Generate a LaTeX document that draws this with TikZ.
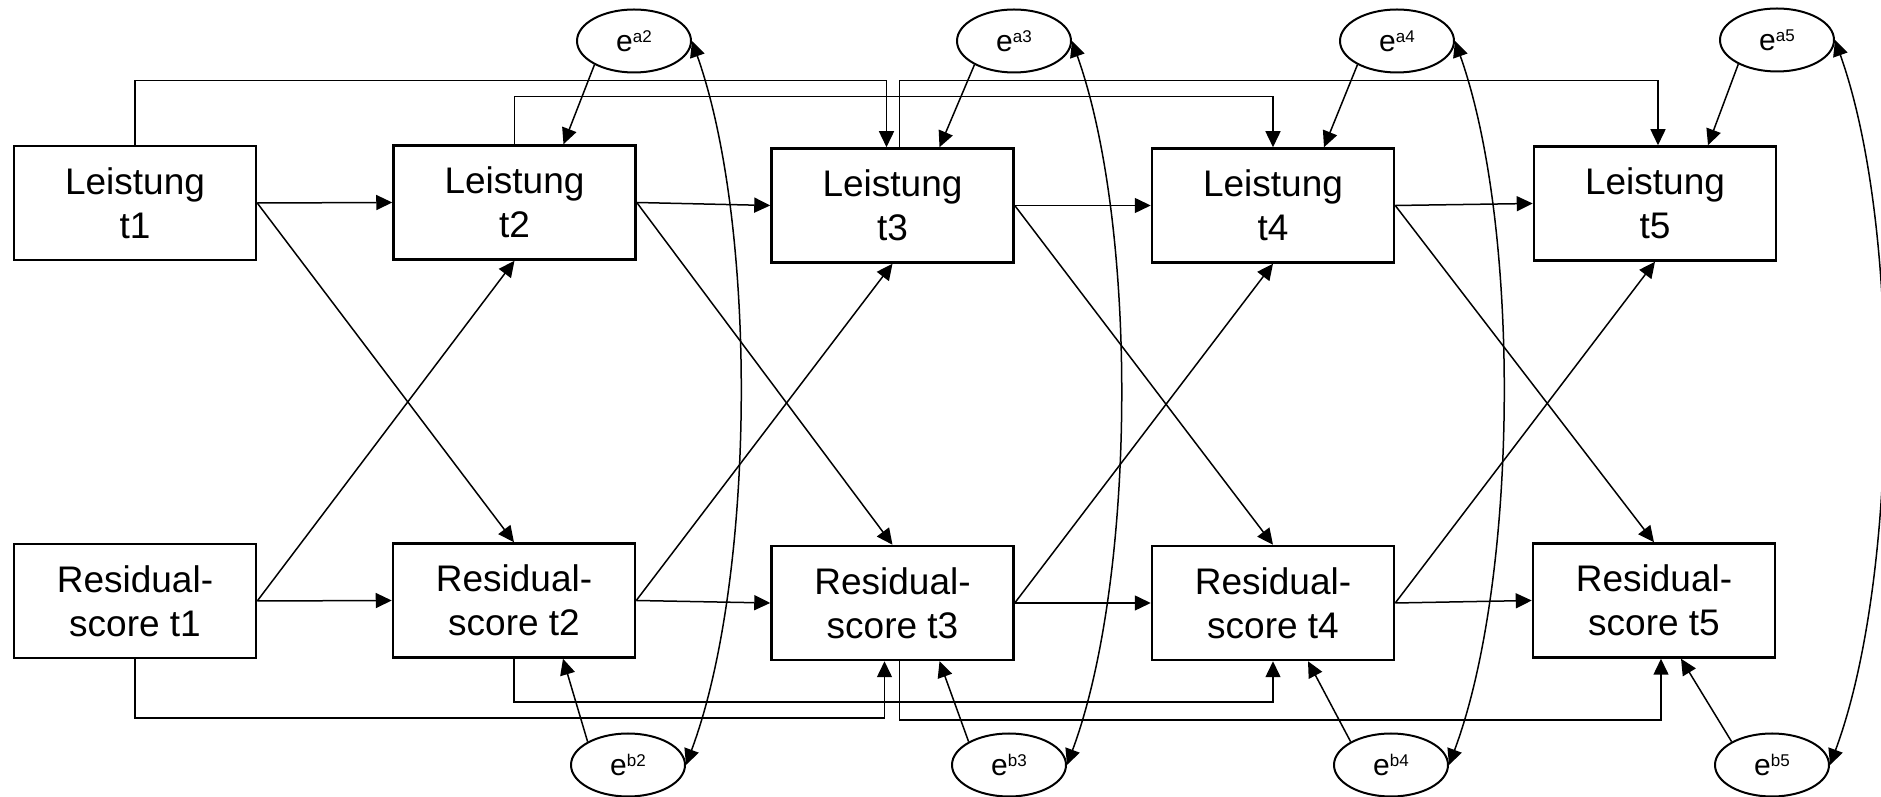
\documentclass[tikz,border=0pt]{standalone}
\usepackage{fontspec}
\setmainfont{Liberation Sans}
\usetikzlibrary{arrows.meta,shapes.geometric}

\newcommand{\errlabel}[1]{e\raisebox{4.5pt}{\fontsize{8.5pt}{8.5pt}\selectfont #1}}

\begin{document}
\begin{tikzpicture}[x=0.5pt,y=0.5pt,
        var/.style={draw,line width=1.25pt,minimum width=121pt,minimum height=57pt,inner sep=0pt,align=center,font=\fontsize{18.5pt}{22pt}\selectfont},
        err/.style={draw,ellipse,line width=1pt,minimum width=57pt,minimum height=31.5pt,inner sep=0pt,font=\fontsize{15pt}{15pt}\selectfont},
        conn/.style={line width=0.75pt,-{Triangle[length=8pt,width=7.5pt]}},
        cov/.style={line width=0.75pt,{Triangle[length=8pt,width=7.5pt]}-{Triangle[length=8pt,width=7.5pt]},bend left=20,looseness=0.7}]
        \useasboundingbox (0,0) rectangle (1881,797);
        % Leistung
        \node[var] (t1) at (135,594) {Leistung\\t1};
        \node[var] (t2) at (514.5,594.5) {Leistung\\t2};
        \node[var] (t3) at (892.5,591.5) {Leistung\\t3};
        \node[var] (t4) at (1273,591.5) {Leistung\\t4};
        \node[var] (t5) at (1655,593.5) {Leistung\\t5};
        % Residualscore
        \node[var] (r1) at (135,196) {Residual-\\score t1};
        \node[var] (r2) at (514,196.5) {Residual-\\score t2};
        \node[var] (r3) at (892.5,194) {Residual-\\score t3};
        \node[var] (r4) at (1273,194) {Residual-\\score t4};
        \node[var] (r5) at (1654,196.5) {Residual-\\score t5};
        % Fehlerterme
        \node[err] (ea2) at (634,756) {\errlabel{a2}};
        \node[err] (ea3) at (1014,756) {\errlabel{a3}};
        \node[err] (ea4) at (1397,756) {\errlabel{a4}};
        \node[err] (ea5) at (1777,757) {\errlabel{a5}};
        \node[err] (eb2) at (628,32) {\errlabel{b2}};
        \node[err] (eb3) at (1009,32) {\errlabel{b3}};
        \node[err] (eb4) at (1391,32) {\errlabel{b4}};
        \node[err] (eb5) at (1772,32) {\errlabel{b5}};
        % Stabilitaeten
        \draw[conn] (t1.east) -- (t2.west);
        \draw[conn] (t2.east) -- (t3.west);
        \draw[conn] (t3.east) -- (t4.west);
        \draw[conn] (t4.east) -- (t5.west);
        \draw[conn] (r1.east) -- (r2.west);
        \draw[conn] (r2.east) -- (r3.west);
        \draw[conn] (r3.east) -- (r4.west);
        \draw[conn] (r4.east) -- (r5.west);
        % Kreuzpfade
        \draw[conn] (t1.east) -- (r2.north);
        \draw[conn] (t2.east) -- (r3.north);
        \draw[conn] (t3.east) -- (r4.north);
        \draw[conn] (t4.east) -- (r5.north);
        \draw[conn] (r1.east) -- (t2.south);
        \draw[conn] (r2.east) -- (t3.south);
        \draw[conn] (r3.east) -- (t4.south);
        \draw[conn] (r4.east) -- (t5.south);
        % Pfade ueber zwei Zeitpunkte
        \draw[conn] (t1.north) -- ++(0,64) -| ([xshift=-3pt]t3.north);
        \draw[conn] (t2.north) -- ++(0,47.5) -| (t4.north);
        \draw[conn] ([xshift=3.5pt]t3.north) -- ++(0,66.5) -| ([xshift=1.5pt]t5.north);
        \draw[conn] (r1.south) -- ++(0,-59) -| ([xshift=-4pt]r3.south);
        \draw[conn] (r2.south) -- ++(0,-43.5) -| (r4.south);
        \draw[conn] ([xshift=3.5pt]r3.south) -- ++(0,-59) -| ([xshift=3.5pt]r5.south);
        % Fehler
        \draw[conn] (ea2.211) -- ([xshift=24.5pt]t2.north);
        \draw[conn] (ea3.211) -- ([xshift=23.5pt]t3.north);
        \draw[conn] (ea4.211) -- ([xshift=25.5pt]t4.north);
        \draw[conn] (ea5.212) -- ([xshift=26.5pt]t5.north);
        \draw[conn] (eb2.150) -- ([xshift=24.5pt]r2.south);
        \draw[conn] (eb3.150) -- ([xshift=23.5pt]r3.south);
        \draw[conn] (eb4.150) -- ([xshift=17.5pt]r4.south);
        \draw[conn] (eb5.150) -- ([xshift=13.5pt]r5.south);
        % Fehlerkovarianzen
        \draw[cov] (ea2.east) to (eb2.east);
        \draw[cov] (ea3.east) to (eb3.east);
        \draw[cov] (ea4.east) to (eb4.east);
        \draw[cov] (ea5.east) to (eb5.east);
    \end{tikzpicture}
\end{document}
